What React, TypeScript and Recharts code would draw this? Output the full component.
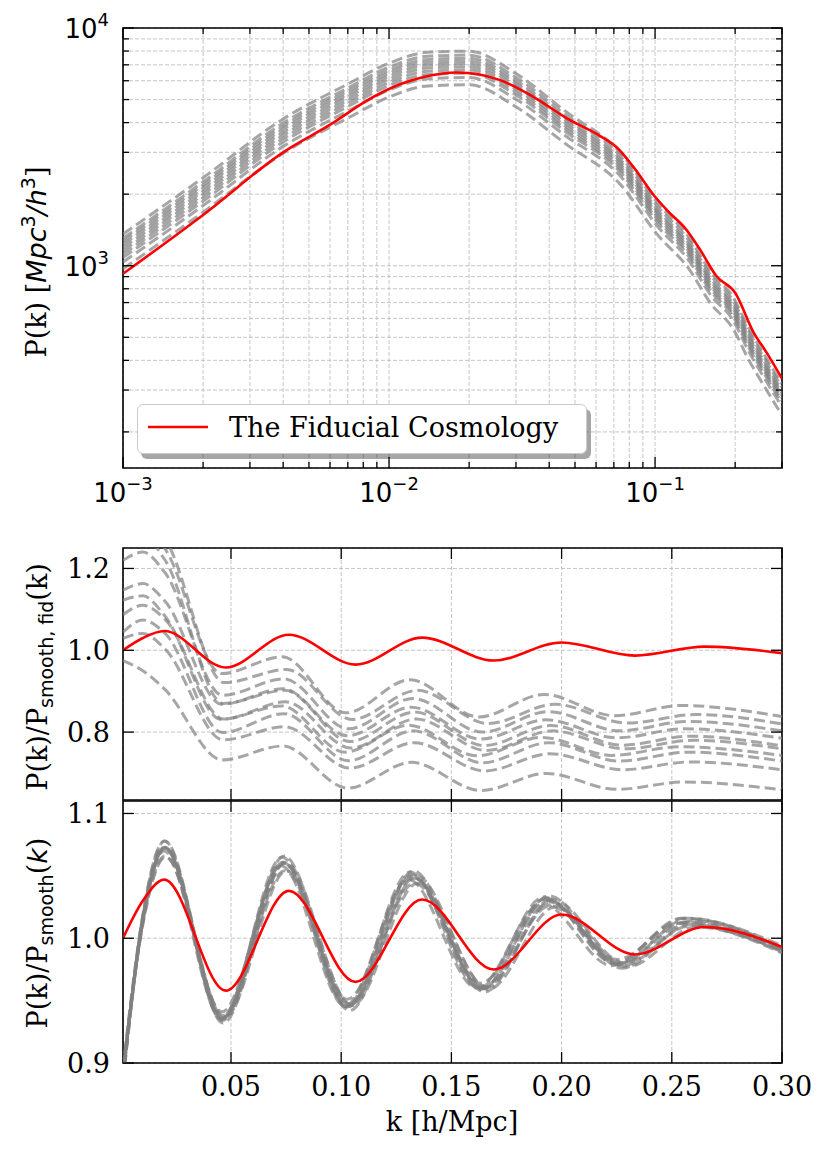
import React from 'react';
import { LineChart, Line, XAxis, YAxis, CartesianGrid, ReferenceArea, Legend } from 'recharts';

const SERIF = "'DejaVu Serif', serif";
const SANS = "'DejaVu Sans', sans-serif";

// ---------- tick definitions ----------
const X_LOG_TICKS = [0.001, 0.002, 0.003, 0.004, 0.005, 0.006, 0.007, 0.008, 0.009, 0.01, 0.02, 0.03, 0.04, 0.05, 0.06, 0.07, 0.08, 0.09, 0.1, 0.2, 0.3];
const X_LOG_MAJOR = [0.001, 0.01, 0.1];
const X_LOG_EXP = ['\u22123', '\u22122', '\u22121'];
const Y_LOG_TICKS = [200, 300, 400, 500, 600, 700, 800, 900, 1000, 2000, 3000, 4000, 5000, 6000, 7000, 8000, 9000, 10000];
const Y_LOG_MAJOR = [1000, 10000];
const Y_LOG_EXP = ['3', '4'];
const X_LIN_TICKS = [0.05, 0.1, 0.15, 0.2, 0.25, 0.3];
const X_LIN_LABELS = ['0.05', '0.10', '0.15', '0.20', '0.25', '0.30'];
const Y_MID_TICKS = [0.8, 1.0, 1.2];
const Y_MID_LABELS = ['0.8', '1.0', '1.2'];
const Y_BOT_TICKS = [0.9, 1.0, 1.1];
const Y_BOT_LABELS = ['0.9', '1.0', '1.1'];

// ---------- top panel: P(k) ----------
const RED_TOP_K = [0.001, 0.002, 0.004, 0.0062, 0.0082, 0.011, 0.0135, 0.018, 0.026, 0.035, 0.0466, 0.062, 0.0717, 0.083, 0.1, 0.111, 0.1316, 0.1475, 0.17, 0.2, 0.2345, 0.263, 0.3];
const RED_TOP_P = [925, 1635, 3000, 4010, 4930, 5800, 6220, 6500, 6050, 5120, 4170, 3520, 3150, 2600, 1950, 1710, 1410, 1170, 905, 770, 525, 430, 335];

const K_TOP = [0.001, 0.002, 0.004, 0.007, 0.01, 0.014, 0.02, 0.03, 0.046, 0.074, 0.103, 0.133, 0.163, 0.195, 0.226, 0.257, 0.3];
const TOP_GRAY = [
  [1360, 2345, 4146, 5812, 7110, 7907, 7989, 6427, 4469, 2996, 1816, 1334, 931, 747, 541, 423, 318],
  [1304, 2250, 3981, 5588, 6839, 7605, 7691, 6194, 4318, 2896, 1758, 1291, 902, 723, 524, 410, 308],
  [1267, 2184, 3864, 5426, 6635, 7378, 7457, 6005, 4183, 2803, 1700, 1248, 873, 700, 507, 396, 298],
  [1230, 2122, 3756, 5272, 6453, 7177, 7256, 5850, 4078, 2739, 1661, 1221, 853, 684, 495, 387, 291],
  [1193, 2058, 3645, 5123, 6271, 6982, 7061, 5694, 3977, 2673, 1623, 1192, 833, 668, 483, 378, 285],
  [1156, 1996, 3537, 4969, 6089, 6781, 6860, 5539, 3872, 2609, 1584, 1164, 813, 652, 472, 369, 278],
  [1119, 1933, 3426, 4820, 5906, 6579, 6659, 5384, 3772, 2543, 1545, 1135, 793, 636, 461, 361, 271],
  [1082, 1869, 3315, 4671, 5724, 6378, 6458, 5228, 3671, 2476, 1505, 1106, 774, 621, 449, 352, 265],
  [1036, 1790, 3177, 4473, 5487, 6114, 6191, 5017, 3524, 2383, 1447, 1065, 744, 597, 432, 338, 255],
  [971, 1678, 2973, 4179, 5123, 5705, 5770, 4662, 3263, 2199, 1335, 982, 686, 550, 398, 312, 235],
];

// ---------- ratio panels ----------
const RED_RATIO_K = [0.001, 0.01, 0.0197, 0.0476, 0.0763, 0.1065, 0.1367, 0.1692, 0.2, 0.2333, 0.265, 0.3];
const RED_RATIO = [1.0, 1.03, 1.047, 0.958, 1.038, 0.965, 1.031, 0.975, 1.019, 0.987, 1.009, 0.993];

const GRAY_K = [
  [0.001, 0.01, 0.0198, 0.0457, 0.0732, 0.1022, 0.1312, 0.1624, 0.192, 0.224, 0.2544, 0.3],
  [0.001, 0.01, 0.0203, 0.0469, 0.0752, 0.1049, 0.1346, 0.1667, 0.197, 0.2298, 0.261, 0.3],
  [0.001, 0.01, 0.02, 0.0462, 0.074, 0.1033, 0.1326, 0.1641, 0.194, 0.2263, 0.2571, 0.3],
  [0.001, 0.01, 0.0199, 0.0459, 0.0736, 0.1028, 0.1319, 0.1633, 0.193, 0.2251, 0.2557, 0.3],
  [0.001, 0.01, 0.0201, 0.0464, 0.0744, 0.1038, 0.1333, 0.165, 0.195, 0.2275, 0.2584, 0.3],
  [0.001, 0.01, 0.0202, 0.0466, 0.0748, 0.1044, 0.134, 0.1658, 0.196, 0.2286, 0.2597, 0.3],
  [0.001, 0.01, 0.0197, 0.0455, 0.0729, 0.1017, 0.1305, 0.1616, 0.191, 0.2228, 0.2531, 0.3],
  [0.001, 0.01, 0.02, 0.0461, 0.0741, 0.1032, 0.1327, 0.164, 0.1942, 0.2262, 0.2574, 0.3],
  [0.001, 0.01, 0.0201, 0.0465, 0.0743, 0.1039, 0.1332, 0.1651, 0.1948, 0.2276, 0.2582, 0.3],
  [0.001, 0.01, 0.0199, 0.046, 0.0735, 0.1029, 0.1318, 0.1634, 0.1931, 0.225, 0.2558, 0.3],
];

const MID_GRAY = [
  [1.286, 1.304, 1.25, 0.943, 0.984, 0.847, 0.928, 0.837, 0.892, 0.84, 0.865, 0.838],
  [1.32, 1.33, 1.27, 0.921, 0.953, 0.831, 0.902, 0.821, 0.868, 0.822, 0.843, 0.82],
  [1.22, 1.24, 1.19, 0.89, 0.93, 0.808, 0.882, 0.8, 0.85, 0.803, 0.826, 0.803],
  [1.147, 1.163, 1.121, 0.868, 0.906, 0.791, 0.861, 0.783, 0.83, 0.786, 0.808, 0.785],
  [1.27, 1.28, 1.22, 0.87, 0.902, 0.777, 0.849, 0.767, 0.816, 0.768, 0.79, 0.766],
  [1.087, 1.11, 1.075, 0.832, 0.874, 0.761, 0.832, 0.755, 0.803, 0.759, 0.78, 0.759],
  [1.123, 1.133, 1.086, 0.831, 0.864, 0.751, 0.817, 0.742, 0.787, 0.743, 0.764, 0.743],
  [1.044, 1.074, 1.042, 0.799, 0.845, 0.73, 0.803, 0.725, 0.774, 0.729, 0.751, 0.729],
  [1.029, 1.041, 1.003, 0.781, 0.813, 0.712, 0.774, 0.705, 0.747, 0.708, 0.727, 0.708],
  [0.975, 0.95, 0.905, 0.732, 0.766, 0.663, 0.726, 0.657, 0.699, 0.66, 0.678, 0.659],
];

const BOT_GRAY = [
  [0.887, 1.018, 1.078, 0.935, 1.065, 0.945, 1.053, 0.96, 1.033, 0.98, 1.016, 0.992],
  [0.893, 1.011, 1.065, 0.936, 1.054, 0.946, 1.044, 0.959, 1.025, 0.977, 1.009, 0.988],
  [0.89, 1.015, 1.072, 0.936, 1.06, 0.946, 1.049, 0.96, 1.03, 0.979, 1.013, 0.991],
  [0.896, 1.018, 1.073, 0.941, 1.061, 0.951, 1.051, 0.964, 1.032, 0.983, 1.016, 0.994],
  [0.885, 1.014, 1.072, 0.932, 1.06, 0.942, 1.048, 0.957, 1.029, 0.976, 1.011, 0.989],
  [0.891, 1.016, 1.073, 0.937, 1.061, 0.947, 1.05, 0.961, 1.031, 0.98, 1.014, 0.992],
  [0.891, 1.014, 1.07, 0.936, 1.058, 0.946, 1.047, 0.96, 1.028, 0.978, 1.012, 0.99],
  [0.885, 1.018, 1.078, 0.934, 1.066, 0.945, 1.054, 0.96, 1.034, 0.98, 1.016, 0.992],
  [0.895, 1.012, 1.066, 0.938, 1.054, 0.947, 1.044, 0.96, 1.026, 0.978, 1.01, 0.99],
  [0.888, 1.015, 1.073, 0.935, 1.061, 0.945, 1.05, 0.959, 1.031, 0.979, 1.013, 0.991],
];

// ---------- layout ----------
const W = 830;
const H = 1156;
const PL = 123;
const PR = 782;
const PW = PR - PL;
const P1 = { top: 28, bottom: 468 };
const P2 = { top: 548, bottom: 800 };
const P3 = { top: 801, bottom: 1063 };

const pts = (ks: number[], vs: number[]) => ks.map((k, i) => ({ k, v: vs[i] }));

const near = (a: number, b: number) => Math.abs(a - b) < 1e-9 * Math.max(1, Math.abs(b));

type TickCfg = { size: number; majors: number[]; labels: string[] | null; log: boolean };

const makeXTick = (cfg: TickCfg) => (props: any) => {
  const { x, y, payload } = props;
  const v = payload.value;
  const idx = cfg.majors.findIndex((m) => near(v, m));
  const major = idx >= 0;
  const len = major ? 11 : 6;
  const top = y - cfg.size;
  return (
    <g>
      <line x1={x} x2={x} y1={y} y2={y - len} stroke="#000" strokeWidth={1.3} />
      <line x1={x} x2={x} y1={top} y2={top + len} stroke="#000" strokeWidth={1.3} />
      {cfg.labels && major && (cfg.log ? (
        <text x={x} y={y + 34} textAnchor="middle" fontFamily={SANS} fontSize={26} fill="#000">
          10<tspan dy={-12} fontSize={18}>{cfg.labels[idx]}</tspan>
        </text>
      ) : (
        <text x={x} y={y + 33} textAnchor="middle" fontFamily={SERIF} fontSize={27} fill="#000">
          {cfg.labels[idx]}
        </text>
      ))}
    </g>
  );
};

const makeYTick = (cfg: TickCfg) => (props: any) => {
  const { x, y, payload } = props;
  const v = payload.value;
  const idx = cfg.majors.findIndex((m) => near(v, m));
  const major = idx >= 0;
  const len = major ? 11 : 6;
  const right = x + cfg.size;
  return (
    <g>
      <line x1={x} x2={x + len} y1={y} y2={y} stroke="#000" strokeWidth={1.3} />
      <line x1={right} x2={right - len} y1={y} y2={y} stroke="#000" strokeWidth={1.3} />
      {cfg.labels && major && (cfg.log ? (
        <text x={x - 14} y={y + 10} textAnchor="end" fontFamily={SANS} fontSize={26} fill="#000">
          10<tspan dy={-12} fontSize={18}>{cfg.labels[idx]}</tspan>
        </text>
      ) : (
        <text x={x - 13} y={y + 10} textAnchor="end" fontFamily={SERIF} fontSize={27} fill="#000">
          {cfg.labels[idx]}
        </text>
      ))}
    </g>
  );
};

const TopYLabel = () => (
  <text transform="rotate(-90, 46, 262)" x={46} y={262} textAnchor="middle" fontFamily={SERIF} fontSize={27} fill="#000">
    {'P(k) ['}
    <tspan fontFamily={SANS} fontStyle="italic">Mpc</tspan>
    <tspan fontFamily={SANS} fontSize={19} dy={-11}>3</tspan>
    <tspan fontFamily={SANS} fontStyle="italic" dy={11}>/h</tspan>
    <tspan fontFamily={SANS} fontSize={19} dy={-11}>3</tspan>
    <tspan dy={11}>]</tspan>
  </text>
);

const MidYLabel = () => (
  <text transform="rotate(-90, 47, 677)" x={47} y={677} textAnchor="middle" fontFamily={SERIF} fontSize={27} fill="#000">
    {'P(k)/P'}
    <tspan fontFamily={SANS} fontSize={19} dy={6}>{'smooth, fid'}</tspan>
    <tspan dy={-6}>{'(k)'}</tspan>
  </text>
);

const BotYLabel = () => (
  <text transform="rotate(-90, 47, 933)" x={47} y={933} textAnchor="middle" fontFamily={SERIF} fontSize={27} fill="#000">
    {'P(k)/P'}
    <tspan fontFamily={SANS} fontSize={19} dy={6}>smooth</tspan>
    <tspan dy={-6}>(</tspan>
    <tspan fontFamily={SANS} fontStyle="italic">k</tspan>
    <tspan>)</tspan>
  </text>
);

const BotXLabel = () => (
  <text x={452} y={1131} textAnchor="middle" fontFamily={SERIF} fontSize={27} fill="#000">
    k [h/Mpc]
  </text>
);

const LegendBox = () => (
  <div
    style={{
      position: 'relative',
      width: 450,
      height: 50,
      boxSizing: 'border-box',
      border: '1.5px solid #cccccc',
      borderRadius: 6,
      background: '#ffffff',
      boxShadow: '4px 5px 0 rgba(0,0,0,0.35)',
    }}
  >
    <svg width={450} height={50} style={{ position: 'absolute', left: 0, top: 0 }}>
      <line x1={10} x2={70} y1={22} y2={22} stroke="#ff0000" strokeWidth={2.6} />
      <text x={91} y={32} fontFamily={SERIF} fontSize={27} fill="#000">
        The Fiducial Cosmology
      </text>
    </svg>
  </div>
);

const grayStyle = {
  stroke: '#808080',
  strokeOpacity: 0.7,
  strokeWidth: 3,
  strokeDasharray: '11 5',
};

const axisCommon = {
  allowDataOverflow: true,
  interval: 0 as const,
  tickSize: 0,
  tickMargin: 0,
  axisLine: false,
  tickLine: false,
};

export default function App() {
  // axes take 1px (XAxis height / YAxis width) so that they render
  const margin = (p: { top: number; bottom: number }) => ({ top: p.top, bottom: H - p.bottom - 1, left: PL - 1, right: W - PR });
  return (
    <div style={{ position: 'absolute', left: 0, top: 0, width: W, height: H, background: '#ffffff' }}>
      {/* top panel */}
      <div style={{ position: 'absolute', left: 0, top: 0 }}>
        <LineChart width={W} height={H} margin={margin(P1)}>
          <CartesianGrid stroke="#b8b8b8" strokeDasharray="4 2" strokeWidth={0.8} />
          <XAxis
            dataKey="k"
            type="number"
            scale="log"
            domain={[0.001, 0.3]}
            ticks={X_LOG_TICKS}
            height={1}
            {...axisCommon}
            tick={makeXTick({ size: P1.bottom - P1.top, majors: X_LOG_MAJOR, labels: X_LOG_EXP, log: true })}
          />
          <YAxis
            type="number"
            scale="log"
            domain={[141, 10000]}
            ticks={Y_LOG_TICKS}
            width={1}
            {...axisCommon}
            tick={makeYTick({ size: PW, majors: Y_LOG_MAJOR, labels: Y_LOG_EXP, log: true })}
            label={<TopYLabel />}
          />
          {TOP_GRAY.map((row, i) => (
            <Line
              key={'tg' + i}
              name={'top-gray-' + i}
              data={pts(K_TOP, row)}
              dataKey="v"
              type="monotone"
              dot={false}
              activeDot={false}
              isAnimationActive={false}
              legendType="none"
              {...grayStyle}
            />
          ))}
          <Line
            name="The Fiducial Cosmology"
            data={pts(RED_TOP_K, RED_TOP_P)}
            dataKey="v"
            type="monotone"
            stroke="#ff0000"
            strokeWidth={2.6}
            dot={false}
            activeDot={false}
            isAnimationActive={false}
          />
          <ReferenceArea x1={0.001} x2={0.3} y1={141} y2={10000} fill="none" stroke="#000" strokeWidth={1.6} ifOverflow="visible" />
          <Legend
            layout="vertical"
            align="center"
            verticalAlign="middle"
            content={() => <LegendBox />}
            wrapperStyle={{ position: 'absolute', left: 137, top: 404, width: 452, height: 54 }}
          />
        </LineChart>
      </div>

      {/* middle panel */}
      <div style={{ position: 'absolute', left: 0, top: 0 }}>
        <LineChart width={W} height={H} margin={margin(P2)}>
          <CartesianGrid stroke="#b8b8b8" strokeDasharray="4 2" strokeWidth={0.8} />
          <XAxis
            dataKey="k"
            type="number"
            domain={[0.001, 0.3]}
            ticks={X_LIN_TICKS}
            height={1}
            {...axisCommon}
            tick={makeXTick({ size: P2.bottom - P2.top, majors: X_LIN_TICKS, labels: null, log: false })}
          />
          <YAxis
            type="number"
            domain={[0.634, 1.25]}
            ticks={Y_MID_TICKS}
            width={1}
            {...axisCommon}
            tick={makeYTick({ size: PW, majors: Y_MID_TICKS, labels: Y_MID_LABELS, log: false })}
            label={<MidYLabel />}
          />
          {MID_GRAY.map((row, i) => (
            <Line
              key={'mg' + i}
              name={'mid-gray-' + i}
              data={pts(GRAY_K[i], row)}
              dataKey="v"
              type="monotone"
              dot={false}
              activeDot={false}
              isAnimationActive={false}
              {...grayStyle}
            />
          ))}
          <Line
            name="mid-red"
            data={pts(RED_RATIO_K, RED_RATIO)}
            dataKey="v"
            type="monotone"
            stroke="#ff0000"
            strokeWidth={2.6}
            dot={false}
            activeDot={false}
            isAnimationActive={false}
          />
          <ReferenceArea x1={0.001} x2={0.3} y1={0.634} y2={1.25} fill="none" stroke="#000" strokeWidth={1.6} ifOverflow="visible" />
        </LineChart>
      </div>

      {/* bottom panel */}
      <div style={{ position: 'absolute', left: 0, top: 0 }}>
        <LineChart width={W} height={H} margin={margin(P3)}>
          <CartesianGrid stroke="#b8b8b8" strokeDasharray="4 2" strokeWidth={0.8} />
          <XAxis
            dataKey="k"
            type="number"
            domain={[0.001, 0.3]}
            ticks={X_LIN_TICKS}
            height={1}
            {...axisCommon}
            tick={makeXTick({ size: P3.bottom - P3.top, majors: X_LIN_TICKS, labels: X_LIN_LABELS, log: false })}
            label={<BotXLabel />}
          />
          <YAxis
            type="number"
            domain={[0.9, 1.11]}
            ticks={Y_BOT_TICKS}
            width={1}
            {...axisCommon}
            tick={makeYTick({ size: PW, majors: Y_BOT_TICKS, labels: Y_BOT_LABELS, log: false })}
            label={<BotYLabel />}
          />
          {BOT_GRAY.map((row, i) => (
            <Line
              key={'bg' + i}
              name={'bot-gray-' + i}
              data={pts(GRAY_K[i], row)}
              dataKey="v"
              type="monotone"
              dot={false}
              activeDot={false}
              isAnimationActive={false}
              {...grayStyle}
            />
          ))}
          <Line
            name="bot-red"
            data={pts(RED_RATIO_K, RED_RATIO)}
            dataKey="v"
            type="monotone"
            stroke="#ff0000"
            strokeWidth={2.6}
            dot={false}
            activeDot={false}
            isAnimationActive={false}
          />
          <ReferenceArea x1={0.001} x2={0.3} y1={0.9} y2={1.11} fill="none" stroke="#000" strokeWidth={1.6} ifOverflow="visible" />
        </LineChart>
      </div>
    </div>
  );
}
